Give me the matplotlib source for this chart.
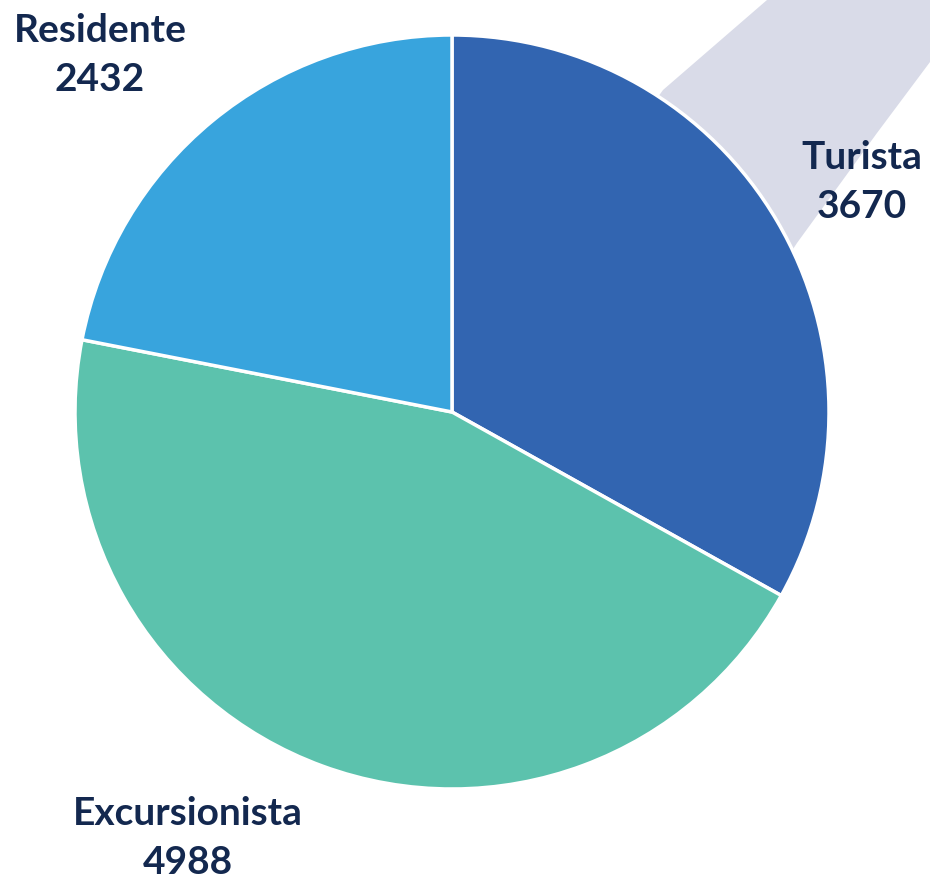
import matplotlib.pyplot as plt
from matplotlib.patches import Polygon

# data
categories = ["Turista", "Excursionista", "Residente"]
values = [3670, 4988, 2432]
colors = ["#3265B1", "#5CC2AD", "#38A4DD"]

W, H = 930, 882
label_color = "#13284F"

fig = plt.figure(figsize=(W / 100, H / 100), dpi=100)
ax = fig.add_axes([0, 0, 1, 1])


def py(y):
    # top-down pixel row -> axis y
    return H - y


# faint background swoosh (sits behind the pie)
band = [(767, 0), (930, 0), (930, 62), (877, 133), (797, 243), (740, 330),
        (500, 330), (620, 150), (663, 90)]
ax.add_patch(Polygon([(x, py(y)) for x, y in band], closed=True,
                     facecolor="#D9DBE8", edgecolor="none", zorder=0))

ax.pie(values, colors=colors, startangle=90, counterclock=False,
       center=(452, py(412)), radius=377, frame=True,
       wedgeprops=dict(edgecolor="white", linewidth=2.5))
ax.set_xlim(0, W)
ax.set_ylim(0, H)
ax.set_aspect("equal")
ax.axis("off")

label_pos = {"Turista": (862, 182), "Excursionista": (188, 838), "Residente": (100, 55)}
for cat, val in zip(categories, values):
    x, y = label_pos[cat]
    ax.text(x, py(y), f"{cat}\n{val}", ha="center", va="center",
            fontsize=28, fontweight="bold", family="Lato", color=label_color,
            linespacing=1.5, zorder=5)

fig.savefig("out.png", dpi=100)
